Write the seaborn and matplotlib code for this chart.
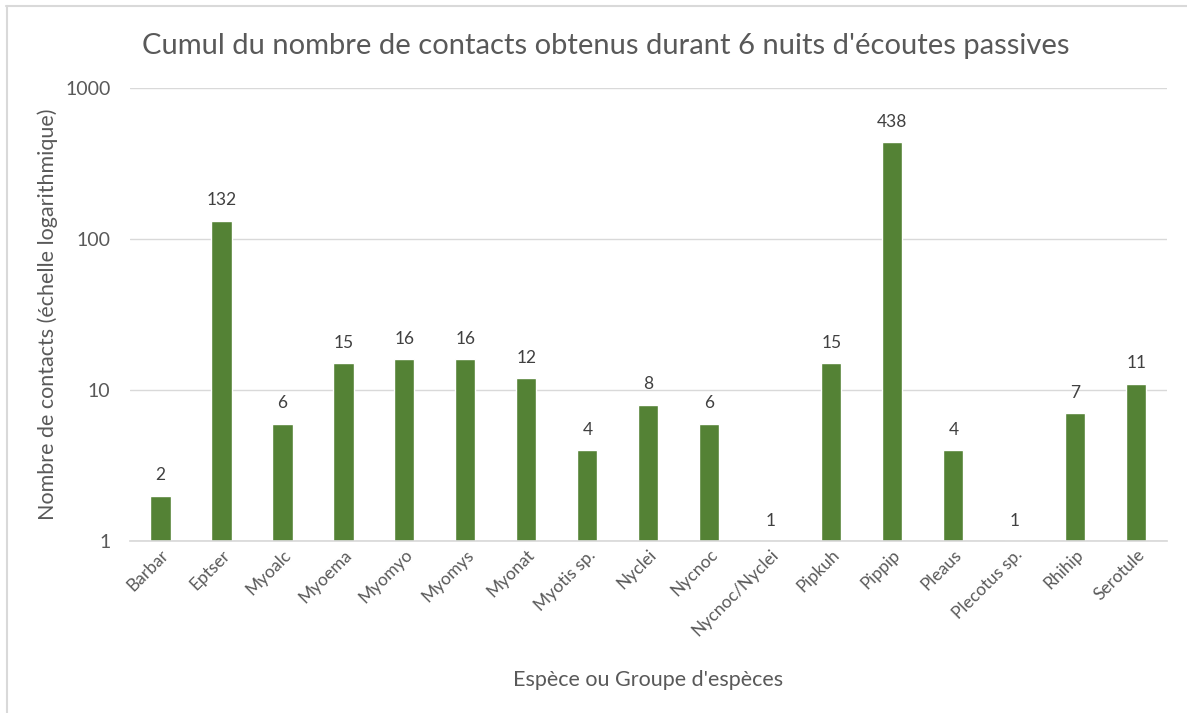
import matplotlib
matplotlib.use("Agg")
import matplotlib.pyplot as plt
import seaborn as sns
import pandas as pd
from matplotlib.lines import Line2D

categories = ["Barbar", "Eptser", "Myoalc", "Myoema", "Myomyo", "Myomys", "Myonat",
              "Myotis sp.", "Nyclei", "Nycnoc", "Nycnoc/Nyclei", "Pipkuh", "Pippip",
              "Pleaus", "Plecotus sp.", "Rhihip", "Serotule"]
contacts = [2, 132, 6, 15, 16, 16, 12, 4, 8, 6, 1, 15, 438, 4, 1, 7, 11]
yticks = [1, 10, 100, 1000]

sns.set_theme(style="white")
plt.rcParams['font.family'] = ['Lato', 'DejaVu Sans']

df = pd.DataFrame({"cat": categories, "val": contacts})

fig = plt.figure(figsize=(11.87, 7.13), dpi=100)
ax = fig.add_axes([0.1095, 0.2412, 0.8735, 0.6354])

sns.barplot(data=df, x="cat", y="val", color="#548235", width=0.33,
            saturation=1, ax=ax)
ax.set_yscale("log")
ax.set_ylim(1, 1000)
ax.set_xlim(-0.5, len(categories) - 0.5)
ax.set_yticks(yticks)
ax.set_yticklabels([str(t) for t in yticks])
ax.minorticks_off()
ax.yaxis.grid(True, color="#d9d9d9", linewidth=1)
ax.set_axisbelow(True)
for s in ["top", "right", "left"]:
    ax.spines[s].set_visible(False)
ax.spines["bottom"].set_color("#d9d9d9")
ax.tick_params(axis="y", length=0, pad=14, labelsize=14, labelcolor="#595959")
ax.tick_params(axis="x", length=0, pad=4, labelsize=12.5, labelcolor="#595959")
plt.setp(ax.get_xticklabels(), rotation=45, ha="right", rotation_mode="anchor")

for i, v in enumerate(contacts):
    ax.annotate(str(v), (i, v), xytext=(0, 9), textcoords="offset points",
                ha="center", va="bottom", fontsize=12.5, color="#404040")

ax.set_xlabel("Espèce ou Groupe d'espèces", fontsize=15.5, color="#595959", labelpad=22)
ax.set_ylabel("Nombre de contacts (échelle logarithmique)", fontsize=15.5,
              color="#595959", labelpad=5)
fig.text(0.51, 0.935, "Cumul du nombre de contacts obtenus durant 6 nuits d'écoutes passives",
         ha="center", va="center", fontsize=21, color="#595959")

fig.add_artist(Line2D([6/1187, 1], [1 - 6/713, 1 - 6/713], color="#d9d9d9", lw=1.5,
                      transform=fig.transFigure))
fig.add_artist(Line2D([7/1187, 7/1187], [0, 1 - 6/713], color="#d9d9d9", lw=1.5,
                      transform=fig.transFigure))

fig.savefig("out.png", dpi=100)
